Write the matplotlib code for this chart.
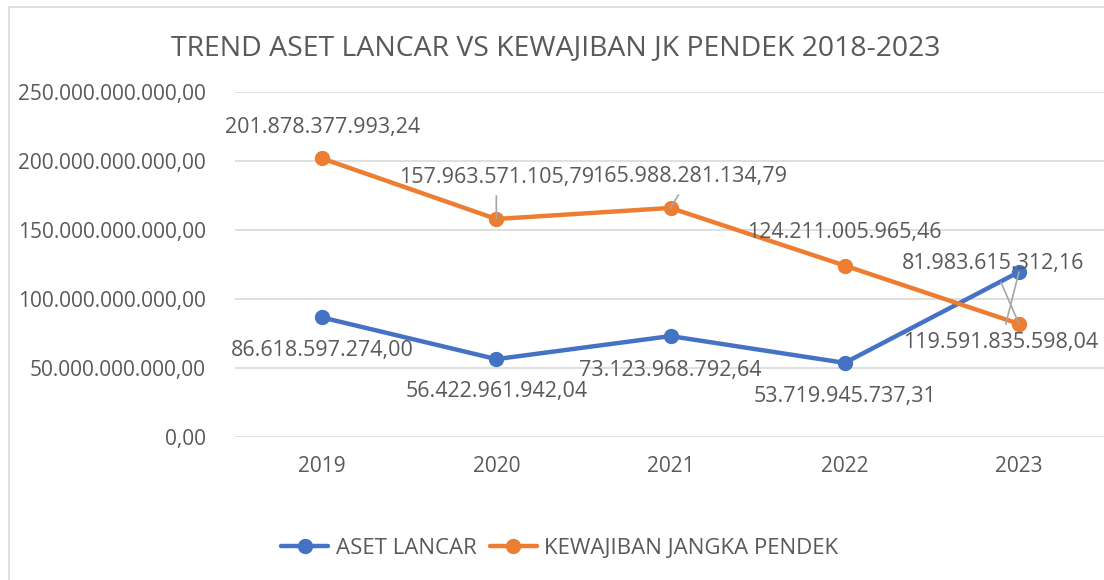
import matplotlib.pyplot as plt
from matplotlib.patches import Rectangle

# data
years = ['2019', '2020', '2021', '2022', '2023']
aset_lancar = [86618597274.00, 56422961942.04, 73123968792.64, 53719945737.31, 119591835598.04]
kewajiban_jk_pendek = [201878377993.24, 157963571105.79, 165988281134.79, 124211005965.46, 81983615312.16]
y_ticks = [0, 50e9, 100e9, 150e9, 200e9, 250e9]

blue = '#4472C4'
orange = '#ED7D31'
grey_text = '#595959'
plt.rcParams['font.family'] = ['Open Sans', 'DejaVu Sans']


def rupiah(v):
    # 1234567.8 -> 1.234.567,80
    s = f'{v:,.2f}'
    return s.replace(',', '#').replace('.', ',').replace('#', '.')


W, H = 1104, 580
fig = plt.figure(figsize=(W / 100, H / 100), dpi=100)
ax = fig.add_axes([235 / W, 1 - 437 / H, (W - 235) / W, 345 / H])

# chart border like excel
fig.patches.append(Rectangle((9 / W, -0.1), 2, 1.1 - 7 / H, transform=fig.transFigure,
                             fill=False, edgecolor='#D9D9D9', linewidth=1.2))

x = list(range(len(years)))
ax.plot(x, aset_lancar, color=blue, lw=3.2, marker='o', ms=10, label='ASET LANCAR',
        solid_capstyle='round', zorder=3)
ax.plot(x, kewajiban_jk_pendek, color=orange, lw=3.2, marker='o', ms=10,
        label='KEWAJIBAN JANGKA PENDEK', solid_capstyle='round', zorder=3)

ax.set_xlim(-0.5, 4.488)
ax.set_ylim(0, 250e9)
ax.set_yticks(y_ticks)
ax.set_yticklabels([rupiah(v) for v in y_ticks])
ax.set_xticks(x)
ax.set_xticklabels(years)
ax.tick_params(length=0, labelsize=15, labelcolor=grey_text)
ax.tick_params(axis='y', pad=21)
ax.tick_params(axis='x', pad=14)
ax.grid(axis='y', color='#D9D9D9', lw=1.2)
ax.set_axisbelow(True)
for s in ax.spines.values():
    s.set_visible(False)

# data labels, offsets in pixels (label centre relative to point)
lab_kw = dict(textcoords='offset pixels', ha='center', va='center', fontsize=15.5,
              color=grey_text, annotation_clip=False)
arrow = dict(arrowstyle='-', color='#A6A6A6', lw=1.2, shrinkA=4, shrinkB=0)

k_off = [(0, 31), (0, 42), (19, 31), (0, 33), (-26, 60)]
a_off = [(0, -33), (0, -32), (0, -34), (0, -34), (-18, -71)]
for i in range(len(years)):
    ka = arrow if i in (1, 2, 4) else None
    ax.annotate(rupiah(kewajiban_jk_pendek[i]), (x[i], kewajiban_jk_pendek[i]),
                xytext=k_off[i], arrowprops=ka, **lab_kw)
    aa = arrow if i == 4 else None
    ax.annotate(rupiah(aset_lancar[i]), (x[i], aset_lancar[i]),
                xytext=a_off[i], arrowprops=aa, **lab_kw)

fig.text(556 / W, 1 - 48 / H, 'TREND ASET LANCAR VS KEWAJIBAN JK PENDEK 2018-2023',
         ha='center', va='center', fontsize=20.4, color=grey_text)

fig.legend(loc='center', bbox_to_anchor=(560 / W, 1 - 548 / H), ncol=2, frameon=False,
           fontsize=16, labelcolor=grey_text, handlelength=2.1, handletextpad=0.35,
           columnspacing=0.6)

fig.savefig('out.png', dpi=100)
